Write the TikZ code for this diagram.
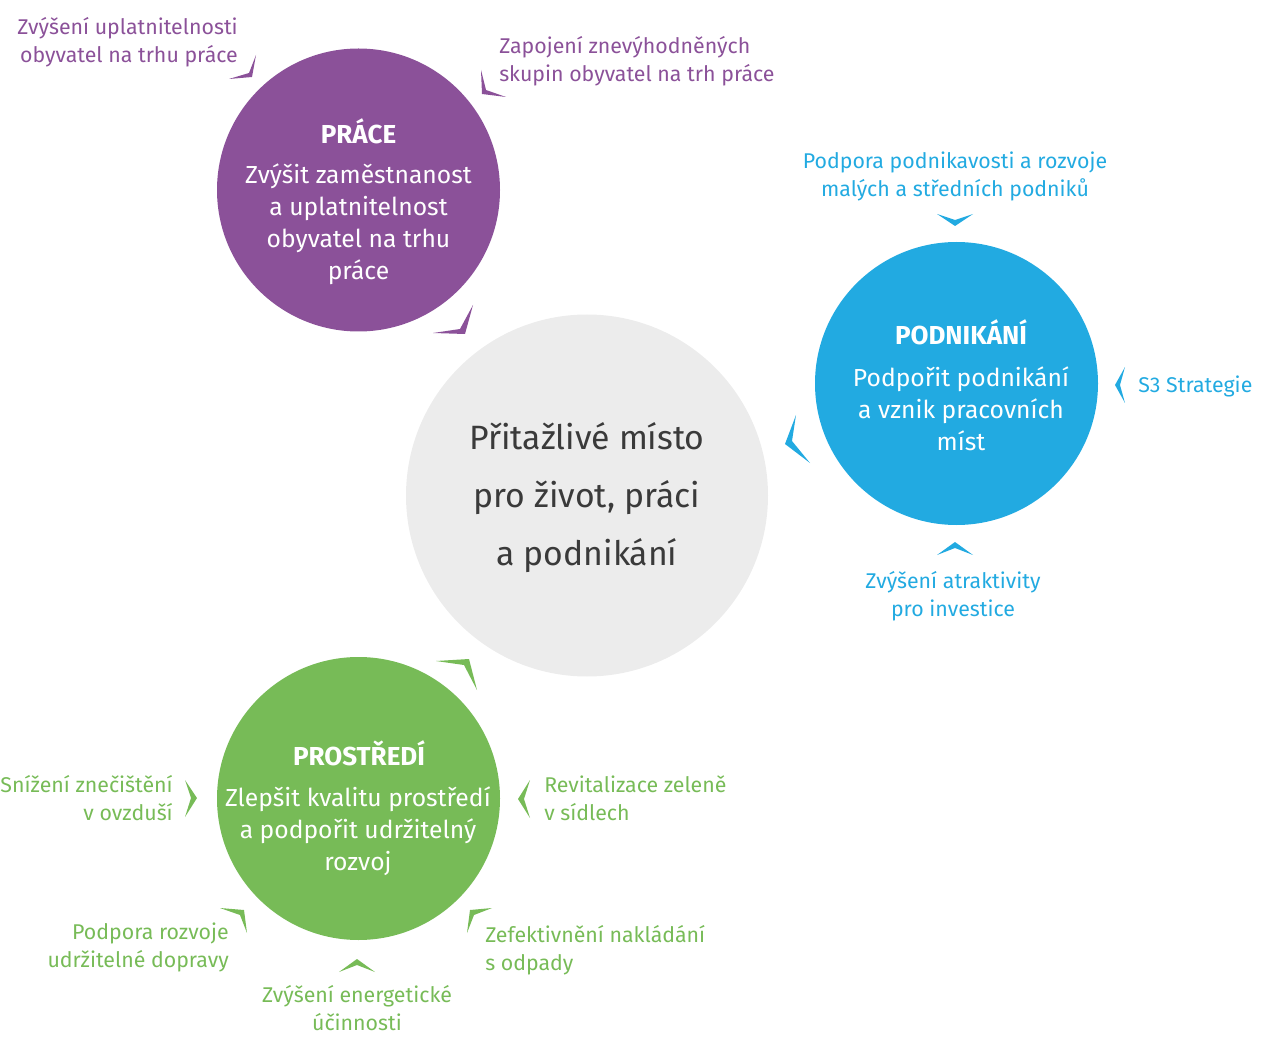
\documentclass[tikz,border=0pt]{standalone}
\usepackage{fontspec}
\setmainfont{Fira Sans}
\definecolor{cprace}{HTML}{8B5199}
\definecolor{cpodn}{HTML}{22AAE1}
\definecolor{cprost}{HTML}{77BB57}
\definecolor{cmid}{HTML}{ECECEC}
\definecolor{cmidtext}{HTML}{3A3A3A}
\newcommand\chev[5]{\fill[#1] #2 -- #3 -- #4 -- #5 -- cycle;}
\tikzset{
  bigcirc/.style={circle, inner sep=0pt, minimum size=212.25pt, draw=none},
  midcirc/.style={circle, inner sep=0pt, minimum size=271.5pt, fill=cmid, draw=none},
  ctitle/.style={text=white, inner sep=0pt, font=\fontsize{19.5}{24}\selectfont\bfseries},
  cbody/.style={text=white, inner sep=0pt, align=center, font=\fontsize{18.5}{24}\selectfont},
  lab/.style={inner sep=0pt, font=\fontsize{16}{21}\selectfont},
  labl/.style={lab, align=left, anchor=west},
  labr/.style={lab, align=right, anchor=east},
  labc/.style={lab, align=center},
}
\begin{document}
\begin{tikzpicture}[x=0.75pt,y=-0.75pt]
\useasboundingbox (0,0) rectangle (1261,1059);
% circles
\node[midcirc] (mid) at (587,495.5) {};
\node[bigcirc, fill=cprace] (prace) at (358.5,190) {};
\node[bigcirc, fill=cpodn] (podn) at (956.5,383.5) {};
\node[bigcirc, fill=cprost] (prost) at (358.5,798.5) {};
% centre text
\node[inner sep=0pt, align=center, text=cmidtext, font=\fontsize{25.3}{43.5}\selectfont] (midtext) at (587,498)
  {Přitažlivé místo\\pro život, práci\\a podnikání};
% circle texts
\node[ctitle] (praceT) at (358.5,131.5) {PRÁCE};
\node[cbody] (praceB) at (358.5,224) {Zvýšit zaměstnanost\\a uplatnitelnost\\obyvatel na trhu\\práce};
\node[ctitle] (podnT) at (961,332.5) {PODNIKÁNÍ};
\node[cbody] (podnB) at (961,409) {Podpořit podnikání\\a vznik pracovních\\míst};
\node[ctitle] (prostT) at (359,753.5) {PROSTŘEDÍ};
\node[cbody] (prostB) at (358,831) {Zlepšit kvalitu prostředí\\a podpořit udržitelný\\rozvoj};
% labels
\node[labr, text=cprace] (l1) at (238,42.5) {Zvýšení uplatnitelnosti\\obyvatel na trhu práce};
\node[labl, text=cprace] (l2) at (499,61.5) {Zapojení znevýhodněných\\skupin obyvatel na trh práce};
\node[labc, text=cpodn] (l3) at (955,176.5) {Podpora podnikavosti a rozvoje\\malých a středních podniků};
\node[labl, text=cpodn] (l4) at (1138,386) {S3 Strategie};
\node[labc, text=cpodn] (l5) at (953,596.5) {Zvýšení atraktivity\\pro investice};
\node[labl, text=cprost] (l6) at (544,798.5) {Revitalizace zeleně\\v sídlech};
\node[labr, text=cprost] (l7) at (173,798.5) {Snížení znečištění\\v ovzduší};
\node[labr, text=cprost] (l8) at (229,947.5) {Podpora rozvoje\\udržitelné dopravy};
\node[labl, text=cprost] (l9) at (485,950.5) {Zefektivnění nakládání\\s odpady};
\node[labc, text=cprost] (l10) at (357,1008.5) {Zvýšení energetické\\účinnosti};
% chevrons
\chev{cprace}{(256,55)}{(252,77)}{(229,79)}{(249,73)}
\chev{cprace}{(481,70)}{(482,94)}{(506,97)}{(486,90)}
\chev{cprace}{(473,305)}{(465,334)}{(433,333)}{(460,329)}
\chev{cpodn}{(796,415)}{(785,444)}{(810,463)}{(792,441)}
\chev{cpodn}{(937,214)}{(955,226)}{(973,214)}{(955,220)}
\chev{cpodn}{(937,555)}{(955,542)}{(973,555)}{(955,548)}
\chev{cpodn}{(1125,367)}{(1115,385)}{(1125,403)}{(1120,385)}
\chev{cprost}{(436,661)}{(469,659)}{(477,690)}{(464,665)}
\chev{cprost}{(185,780)}{(197,798)}{(185,817)}{(191,798)}
\chev{cprost}{(530,780)}{(518,799)}{(530,818)}{(524,799)}
\chev{cprost}{(220,908)}{(244,910)}{(247,933)}{(240,915)}
\chev{cprost}{(492,908)}{(470,910)}{(467,933)}{(474,915)}
\chev{cprost}{(339,972)}{(357,959)}{(375,972)}{(357,965)}
\end{tikzpicture}
\end{document}
